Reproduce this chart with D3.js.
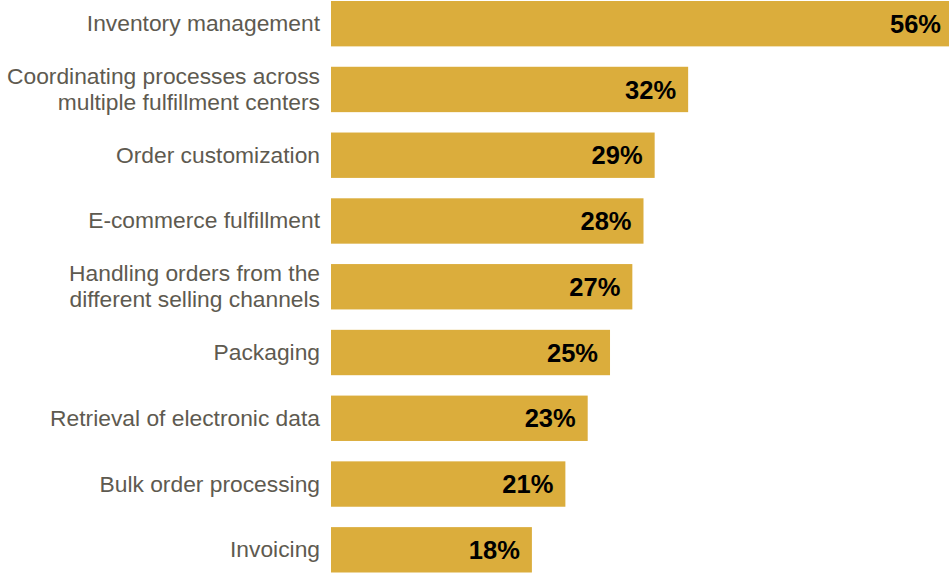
<!DOCTYPE html>
<html>
<head>
<meta charset="utf-8">
<script src="https://cdn.jsdelivr.net/npm/d3@7"></script>
<style>
  html, body { margin: 0; padding: 0; background: #fff; }
  svg { display: block; }
</style>
</head>
<body>
<div id="chart"></div>
<script>
const categories = [
  ["Inventory management"],
  ["Coordinating processes across", "multiple fulfillment centers"],
  ["Order customization"],
  ["E-commerce fulfillment"],
  ["Handling orders from the", "different selling channels"],
  ["Packaging"],
  ["Retrieval of electronic data"],
  ["Bulk order processing"],
  ["Invoicing"]
];
const values = [56, 32, 29, 28, 27, 25, 23, 21, 18];
const valueLabels = ["56%", "32%", "29%", "28%", "27%", "25%", "23%", "21%", "18%"];

const W = 949, H = 574;
const svg = d3.select("#chart").append("svg").attr("width", W).attr("height", H);

const x = d3.scaleLinear().domain([0, 56]).range([331, 956]);
const y = d3.scaleBand().domain(d3.range(values.length)).range([1, 572.5]).paddingInner(0.31).paddingOuter(0);

const g = svg.append("g");
g.selectAll("rect").data(values).join("rect")
  .attr("x", x(0))
  .attr("y", (d, i) => y(i))
  .attr("width", d => x(d) - x(0))
  .attr("height", y.bandwidth())
  .attr("fill", "#dbad3c");

g.selectAll("text.val").data(values).join("text")
  .attr("class", "val")
  .attr("x", d => Math.min(x(d), W + 4) - 12)
  .attr("y", (d, i) => y(i) + y.bandwidth() / 2)
  .attr("dy", "0.36em")
  .attr("text-anchor", "end")
  .attr("font-family", "'Liberation Sans', Arial, sans-serif")
  .attr("font-weight", "bold")
  .attr("font-size", 25.5)
  .attr("fill", "#000")
  .text((d, i) => valueLabels[i]);

const lab = g.selectAll("text.cat").data(categories).join("text")
  .attr("class", "cat")
  .attr("x", 320)
  .attr("y", (d, i) => y(i) + y.bandwidth() / 2)
  .attr("text-anchor", "end")
  .attr("font-family", "'Liberation Sans', Arial, sans-serif")
  .attr("font-size", 22.8)
  .attr("fill", "#5e5a50");

lab.each(function(lines) {
  const t = d3.select(this);
  const lh = 25.5;
  const off = -(lines.length - 1) * lh / 2;
  lines.forEach((s, k) => {
    t.append("tspan")
      .attr("x", 320)
      .attr("y", +t.attr("y") + off + k * lh - 0.5)
      .attr("dy", "0.35em")
      .text(s);
  });
});
</script>
</body>
</html>
